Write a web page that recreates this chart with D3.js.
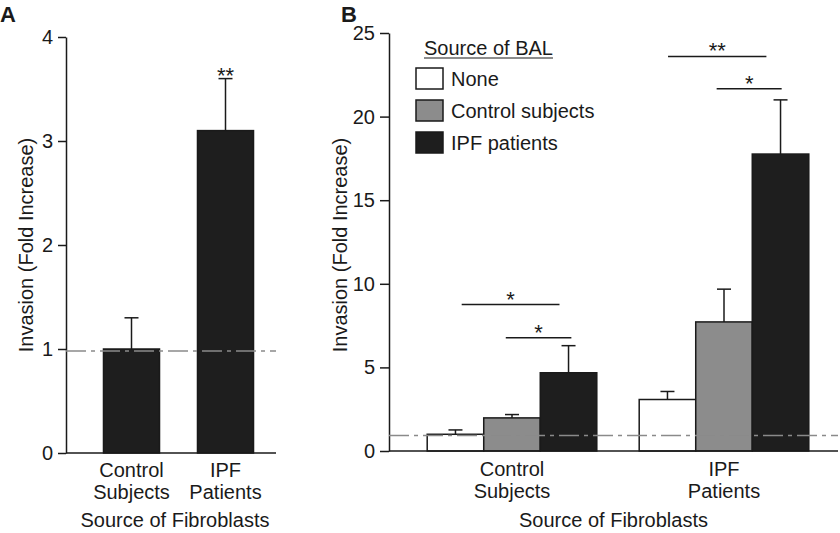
<!DOCTYPE html>
<html>
<head>
<meta charset="utf-8">
<script src="https://cdn.jsdelivr.net/npm/d3@7"></script>
<style>
  body { margin: 0; background: #fff; }
  svg { display: block; font-family: "Liberation Sans", Arial, Helvetica, sans-serif; }
  .axis path, .axis line { stroke: #1a1a1a; stroke-width: 1.5; }
  .axis text { font-size: 20px; fill: #1a1a1a; }
</style>
</head>
<body>
<svg class="chart"></svg>
<script>
// Panel A data
const groupsA = ["Control Subjects", "IPF Patients"];
const meansA = [1.0, 3.1];
const errA = [0.3, 0.5];
const starsA = ["", "**"];
const refLineA = 0.98;
const ticksA = [0, 1, 2, 3, 4];

// Panel B data
const groupsB = ["Control Subjects", "IPF Patients"];
const balSources = ["None", "Control subjects", "IPF patients"];
const noneB = [1.0, 3.08];
const controlB = [1.98, 7.72];
const ipfB = [4.68, 17.76];
const noneErrB = [0.26, 0.48];
const controlErrB = [0.2, 1.96];
const ipfErrB = [1.62, 3.24];
const refLineB = 0.92;
const ticksB = [0, 5, 10, 15, 20, 25];
// significance brackets: group, start/end in bar widths from group start, height, label
const bracketsB = [
  { group: "Control Subjects", from: 0.61, to: 2.34, level: 8.76, label: "*" },
  { group: "Control Subjects", from: 1.39, to: 2.55, level: 6.78, label: "*" },
  { group: "IPF Patients", from: 0.51, to: 2.25, level: 23.6, label: "**" },
  { group: "IPF Patients", from: 1.37, to: 2.52, level: 21.66, label: "*" }
];

const width = 840, height = 533;
const ink = "#1a1a1a";
const fs = 20;
const fills = { "None": "#ffffff", "Control subjects": "#8c8c8c", "IPF patients": "#1e1e1e" };

const svg = d3.select(".chart").attr("width", width).attr("height", height);

// helpers
function twoLineLabel(g, x, lines, y0) {
  const t = g.append("text").attr("text-anchor", "middle").attr("font-size", fs).attr("fill", ink);
  lines.forEach((l, i) => t.append("tspan").attr("x", x).attr("y", y0 + i * 22).text(l));
}

function dashLine(g, x1, x2, y) {
  g.append("line").attr("x1", x1).attr("x2", x2).attr("y1", y).attr("y2", y)
    .attr("stroke", "#8a8a8a").attr("stroke-width", 1.5).attr("stroke-dasharray", "20,5,4,5");
}

function errorBar(g, cx, yTop, yEnd) {
  g.append("line").attr("x1", cx).attr("x2", cx).attr("y1", yTop).attr("y2", yEnd)
    .attr("stroke", ink).attr("stroke-width", 1.5);
  g.append("line").attr("x1", cx - 7).attr("x2", cx + 7).attr("y1", yEnd).attr("y2", yEnd)
    .attr("stroke", ink).attr("stroke-width", 1.5);
}

// ---------- Panel A ----------
const A = { left: 66, right: 276, top: 37, bottom: 453 };
const gA = svg.append("g");
const yA = d3.scaleLinear().domain([0, 4]).range([A.bottom, A.top]);
const xA = d3.scaleBand().domain(groupsA).range([84.5, 272.5]).paddingInner(0.404).paddingOuter(0.202);

gA.append("g").attr("class", "axis").attr("transform", `translate(${A.left},0)`)
  .call(d3.axisLeft(yA).tickValues(ticksA).tickFormat(d3.format("d")).tickSize(8).tickSizeOuter(0).tickPadding(5));

gA.selectAll(".bar").data(groupsA).join("rect")
  .attr("x", d => xA(d)).attr("width", xA.bandwidth())
  .attr("y", (d, i) => yA(meansA[i])).attr("height", (d, i) => yA(0) - yA(meansA[i]))
  .attr("fill", "#1e1e1e").attr("stroke", ink).attr("stroke-width", 1.5);

groupsA.forEach((d, i) => {
  const cx = xA(d) + xA.bandwidth() / 2;
  errorBar(gA, cx, yA(meansA[i]), yA(meansA[i] + errA[i]));
  if (starsA[i]) gA.append("text").attr("x", cx).attr("y", yA(meansA[i] + errA[i]) + 4)
    .attr("text-anchor", "middle").attr("font-size", 22).attr("fill", ink).text(starsA[i]);
  twoLineLabel(gA, cx, d.split(" "), 477);
});

dashLine(gA, A.left, A.right, yA(refLineA));
gA.append("line").attr("x1", A.left).attr("x2", A.right).attr("y1", yA(0)).attr("y2", yA(0))
  .attr("stroke", ink).attr("stroke-width", 1.5);

gA.append("text").attr("transform", `translate(33,${(A.top + A.bottom) / 2}) rotate(-90)`)
  .attr("text-anchor", "middle").attr("font-size", fs).attr("fill", ink).text("Invasion (Fold Increase)");
gA.append("text").attr("x", (A.left + A.right) / 2 + 4).attr("y", 527)
  .attr("text-anchor", "middle").attr("font-size", fs).attr("fill", ink).text("Source of Fibroblasts");
gA.append("text").attr("x", 0).attr("y", 22).attr("font-size", 22).attr("font-weight", "bold").attr("fill", ink).text("A");

// ---------- Panel B ----------
const B = { left: 389, right: 838, top: 33, bottom: 451 };
const gB = svg.append("g");
const yB = d3.scaleLinear().domain([0, 25]).range([B.bottom, B.top]);
const x0 = d3.scaleBand().domain(groupsB).range([406, 830]).paddingInner(0.2).paddingOuter(0.1);
const x1 = d3.scaleBand().domain(balSources).range([0, x0.bandwidth()]);

const seriesB = [
  { key: "None", values: noneB, errs: noneErrB },
  { key: "Control subjects", values: controlB, errs: controlErrB },
  { key: "IPF patients", values: ipfB, errs: ipfErrB }
];
const cells = groupsB.flatMap((g, gi) => seriesB.map(s => ({ group: g, key: s.key, value: s.values[gi], err: s.errs[gi] })));

gB.append("g").attr("class", "axis").attr("transform", `translate(${B.left},0)`)
  .call(d3.axisLeft(yB).tickValues(ticksB).tickFormat(d3.format("d")).tickSize(9).tickSizeOuter(0).tickPadding(5));

gB.selectAll(".bar").data(cells).join("rect")
  .attr("x", d => x0(d.group) + x1(d.key)).attr("width", x1.bandwidth())
  .attr("y", d => yB(d.value)).attr("height", d => yB(0) - yB(d.value))
  .attr("fill", d => fills[d.key]).attr("stroke", ink).attr("stroke-width", 1.5);

cells.forEach(d => {
  const cx = x0(d.group) + x1(d.key) + x1.bandwidth() / 2;
  errorBar(gB, cx, yB(d.value), yB(d.value + d.err));
});

dashLine(gB, B.left, B.right, yB(refLineB));
gB.append("line").attr("x1", B.left).attr("x2", B.right).attr("y1", yB(0)).attr("y2", yB(0))
  .attr("stroke", ink).attr("stroke-width", 1.5);

bracketsB.forEach(b => {
  const bx1 = x0(b.group) + b.from * x1.bandwidth();
  const bx2 = x0(b.group) + b.to * x1.bandwidth();
  gB.append("line").attr("x1", bx1).attr("x2", bx2).attr("y1", yB(b.level)).attr("y2", yB(b.level))
    .attr("stroke", ink).attr("stroke-width", 1.5);
  gB.append("text").attr("x", (bx1 + bx2) / 2).attr("y", yB(b.level) + 2)
    .attr("text-anchor", "middle").attr("font-size", 22).attr("fill", ink).text(b.label);
});

groupsB.forEach(g => twoLineLabel(gB, x0(g) + x0.bandwidth() / 2, g.split(" "), 476));

gB.append("text").attr("transform", `translate(347,${(B.top + B.bottom) / 2 + 3}) rotate(-90)`)
  .attr("text-anchor", "middle").attr("font-size", fs).attr("fill", ink).text("Invasion (Fold Increase)");
gB.append("text").attr("x", (B.left + B.right) / 2) .attr("y", 527)
  .attr("text-anchor", "middle").attr("font-size", fs).attr("fill", ink).text("Source of Fibroblasts");
gB.append("text").attr("x", 341).attr("y", 22).attr("font-size", 22).attr("font-weight", "bold").attr("fill", ink).text("B");

// legend
const legend = gB.append("g").attr("transform", "translate(416,0)");
const title = legend.append("text").attr("x", 8).attr("y", 55).attr("font-size", fs).attr("fill", ink).text("Source of BAL");
const tw = title.node().getComputedTextLength();
legend.append("line").attr("x1", 8).attr("x2", 8 + tw).attr("y1", 58).attr("y2", 58).attr("stroke", ink).attr("stroke-width", 1.2);
const item = legend.selectAll(".item").data(balSources).join("g")
  .attr("transform", (d, i) => `translate(0,${68 + i * 32})`);
item.append("rect").attr("width", 27).attr("height", 21)
  .attr("fill", d => fills[d]).attr("stroke", ink).attr("stroke-width", 1.5);
item.append("text").attr("x", 35).attr("y", 18).attr("font-size", fs).attr("fill", ink).text(d => d);
</script>
</body>
</html>
